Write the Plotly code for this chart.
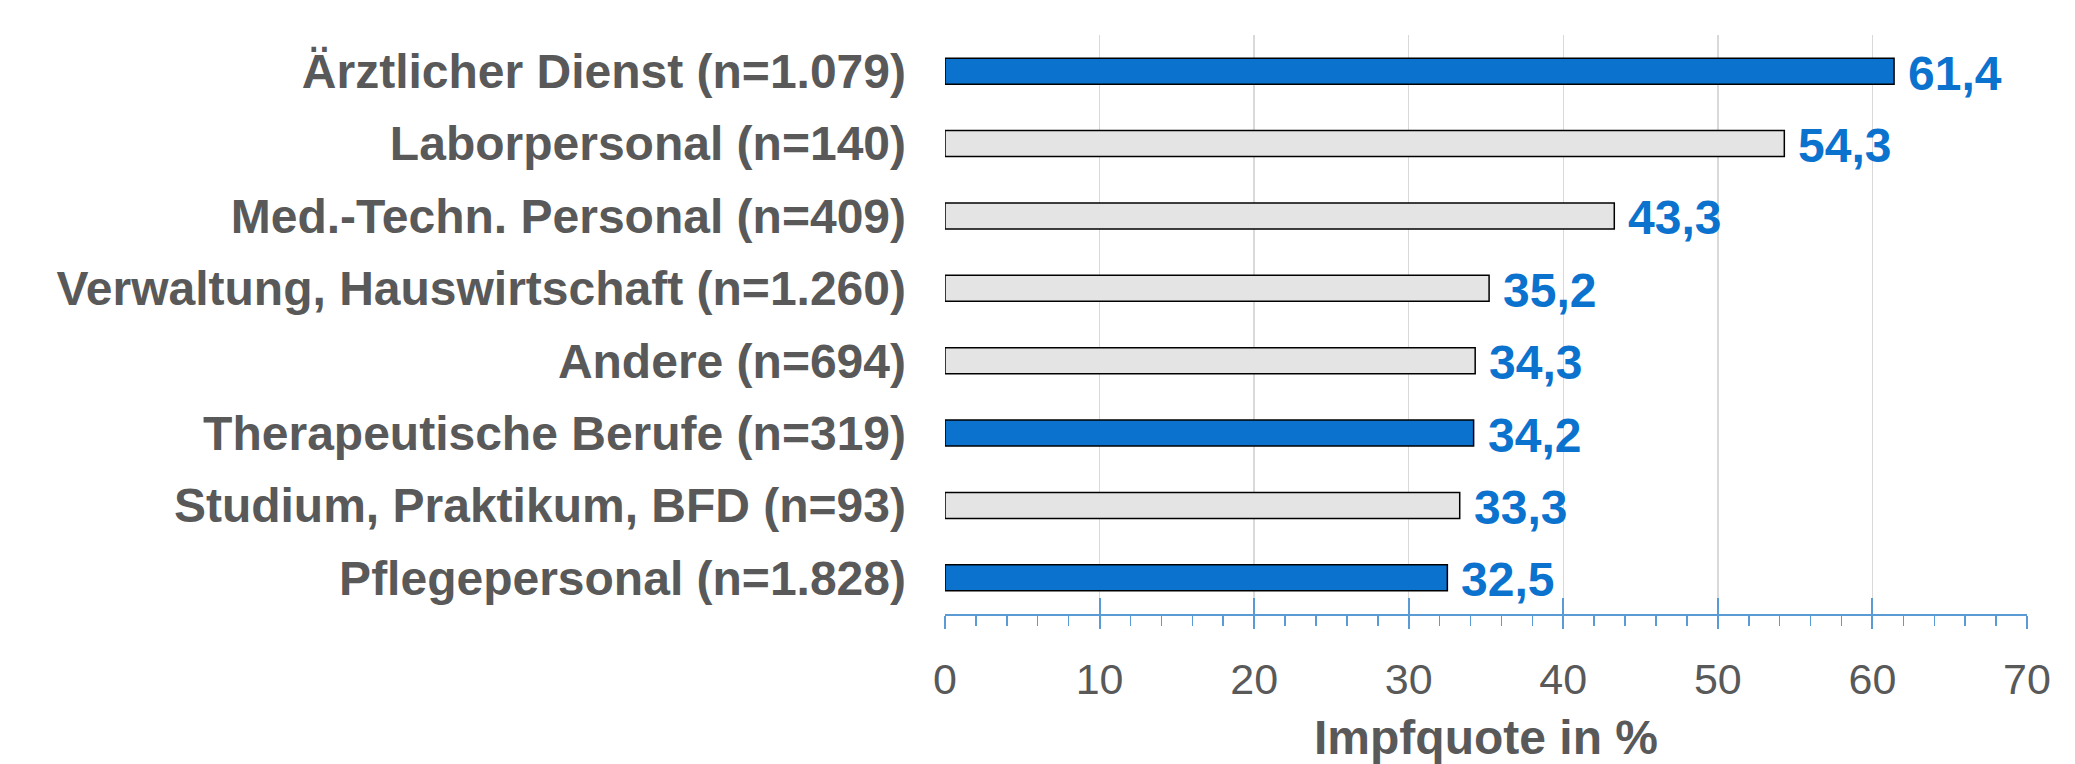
import plotly.graph_objects as go

categories = [
    "Ärztlicher Dienst (n=1.079)",
    "Laborpersonal (n=140)",
    "Med.-Techn. Personal (n=409)",
    "Verwaltung, Hauswirtschaft (n=1.260)",
    "Andere (n=694)",
    "Therapeutische Berufe (n=319)",
    "Studium, Praktikum, BFD (n=93)",
    "Pflegepersonal (n=1.828)",
]
values = [61.4, 54.3, 43.3, 35.2, 34.3, 34.2, 33.3, 32.5]
highlighted = [
    "Ärztlicher Dienst (n=1.079)",
    "Therapeutische Berufe (n=319)",
    "Pflegepersonal (n=1.828)",
]
x_ticks = [0, 10, 20, 30, 40, 50, 60, 70]
x_title = "Impfquote in %"

BLUE = "#0B72CE"
GRAY_FILL = "#E4E4E4"
TEXT_GRAY = "#595959"
AXIS_BLUE = "#5B9BD5"
FONT = "Liberation Sans, Arial, sans-serif"

colors = [BLUE if c in highlighted else GRAY_FILL for c in categories]

fig = go.Figure()
fig.add_trace(go.Bar(
    x=values, y=categories, orientation="h",
    marker=dict(color=colors, line=dict(color="#000000", width=1.5)),
    hoverinfo="skip",
))
# invisible helper trace for the overlay axis (inside major ticks)
fig.add_trace(go.Scatter(
    x=values, y=categories, xaxis="x2", mode="markers",
    marker=dict(opacity=0), hoverinfo="skip", showlegend=False,
))

for c, v in zip(categories, values):
    fig.add_annotation(
        x=v, y=c, xref="x", yref="y",
        text=f"<b>{v:.1f}</b>".replace(".", ","),
        showarrow=False, xanchor="left", yanchor="middle",
        xshift=12, yshift=-2,
        font=dict(family=FONT, size=48, color=BLUE),
    )

fig.update_layout(
    width=2075, height=764,
    margin=dict(l=945, r=48, t=35, b=150),
    paper_bgcolor="white", plot_bgcolor="white",
    bargap=0.64, showlegend=False,
    separators=",.",
    font=dict(family=FONT, color=TEXT_GRAY),
    xaxis=dict(
        range=[x_ticks[0], x_ticks[-1]],
        tickvals=x_ticks,
        automargin=False,
        showgrid=True, gridcolor="#D9D9D9", gridwidth=1.5,
        zeroline=False,
        showline=True, linecolor=AXIS_BLUE, linewidth=2,
        ticks="outside", ticklen=13, tickwidth=2, tickcolor=AXIS_BLUE,
        minor=dict(ticks="outside", ticklen=10, tickwidth=1.5,
                   tickcolor=AXIS_BLUE, dtick=2, showgrid=False),
        tickfont=dict(family=FONT, size=43, color=TEXT_GRAY),
        ticklabelstandoff=13,
        title=dict(text=f"<b>{x_title}</b>",
                   font=dict(family=FONT, size=48, color=TEXT_GRAY),
                   standoff=26),
        fixedrange=True,
    ),
    xaxis2=dict(
        overlaying="x", matches="x", anchor="y", side="bottom",
        range=[x_ticks[0], x_ticks[-1]],
        tickvals=x_ticks, showticklabels=False, automargin=False,
        showgrid=False, zeroline=False, showline=False,
        ticks="inside", ticklen=16, tickwidth=2, tickcolor=AXIS_BLUE,
    ),
    yaxis=dict(
        autorange="reversed", automargin=False,
        showgrid=False, zeroline=False, showline=False,
        ticks="", ticklabelstandoff=38,
        tickfont=dict(family=FONT, size=48, color=TEXT_GRAY, weight="bold"),
        fixedrange=True,
    ),
)

fig.write_html(
    "out.html",
    config={"displayModeBar": False, "staticPlot": True},
    post_script="document.body.style.margin='0';document.body.style.padding='0';",
)
